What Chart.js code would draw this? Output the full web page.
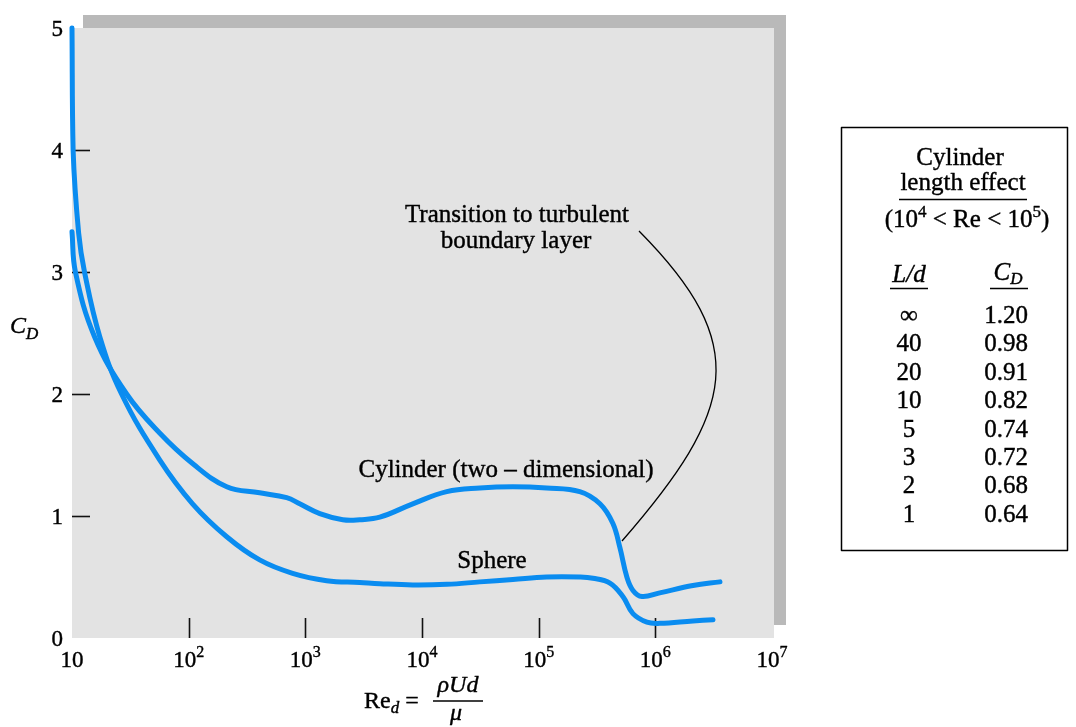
<!DOCTYPE html>
<html>
<head>
<meta charset="utf-8">
<script src="https://cdn.jsdelivr.net/npm/chart.js@4.4.1/dist/chart.umd.min.js"></script>
<style>
  html, body { margin: 0; padding: 0; background: #fff; }
  #wrap { position: relative; width: 1076px; height: 727px; }
</style>
</head>
<body>
<div id="wrap"><canvas id="c" width="1076" height="727"></canvas></div>
<script>
// values (Re on a log axis, C_D linear)
const cylinderRe = [10, 10.7, 15.6, 29.4, 56.4, 108, 212, 406, 692, 895, 1330, 2094, 2931, 4345, 8337, 16300, 31300,
  60100, 117000, 225000, 335000, 432000, 497000, 570000, 643000, 768000, 1090000, 2100000, 3580000];
const cylinderCd = [3.33, 3.0, 2.47, 2.0, 1.68, 1.43, 1.24, 1.19, 1.15, 1.10, 1.02, 0.97, 0.97, 0.99, 1.10, 1.20, 1.23,
  1.24, 1.23, 1.20, 1.10, 0.94, 0.74, 0.50, 0.39, 0.34, 0.37, 0.43, 0.46];

const sphereRe = [10, 10.22, 11.4, 12.8, 17.3, 26.6, 56.4, 108, 212, 406, 778, 1524, 2931, 4345, 8337, 16300, 31300,
  60100, 117000, 225000, 292000, 408000, 527000, 643000, 847000, 1090000, 2100000, 3120000];
const sphereCd = [5.0, 4.0, 3.32, 3.0, 2.47, 2.0, 1.46, 1.10, 0.83, 0.64, 0.53, 0.47, 0.455, 0.445, 0.435, 0.44, 0.46,
  0.48, 0.50, 0.50, 0.49, 0.45, 0.34, 0.20, 0.13, 0.12, 0.14, 0.15];

const xTickExp = [1, 2, 3, 4, 5, 6, 7];
const yTickVals = [0, 1, 2, 3, 4, 5];

const tableLd = ['∞', '40', '20', '10', '5', '3', '2', '1'];
const tableCd = ['1.20', '0.98', '0.91', '0.82', '0.74', '0.72', '0.68', '0.64'];

const SERIF = '"Liberation Serif", "Times New Roman", serif';
const BLUE = '#0a8cf0';
const INK = '#000';

const toPts = (xs, ys) => xs.map((x, i) => ({ x: x, y: ys[i] }));

// text pieces with their own size / italic / baseline shift, laid out left to right
function richWidth(ctx, parts) {
  let w = 0;
  parts.forEach(p => {
    ctx.font = (p.italic ? 'italic ' : '') + p.size + 'px ' + SERIF;
    w += ctx.measureText(p.t).width;
  });
  return w;
}
function drawRich(ctx, parts, x, base, align) {
  const w = richWidth(ctx, parts);
  let cx = align === 'center' ? x - w / 2 : (align === 'right' ? x - w : x);
  ctx.textAlign = 'left';
  ctx.textBaseline = 'alphabetic';
  ctx.lineWidth = 0.4;
  ctx.lineJoin = 'round';
  parts.forEach(p => {
    ctx.font = (p.italic ? 'italic ' : '') + p.size + 'px ' + SERIF;
    ctx.fillText(p.t, cx, base + (p.dy || 0));
    ctx.strokeText(p.t, cx, base + (p.dy || 0)); // the print is a little heavier than plain Times
    cx += ctx.measureText(p.t).width;
  });
}
function hline(ctx, x1, x2, y, lw) {
  ctx.beginPath();
  ctx.lineWidth = lw || 1.5;
  ctx.moveTo(x1, y);
  ctx.lineTo(x2, y);
  ctx.stroke();
}

const decor = {
  id: 'decor',
  beforeDraw(chart) {
    const { ctx, chartArea: a } = chart;
    ctx.save();
    ctx.fillStyle = '#ffffff';
    ctx.fillRect(0, 0, chart.width, chart.height);
    // offset shadow panel, then the plot panel
    ctx.fillStyle = '#b9b9b9';
    ctx.fillRect(a.left + 11, a.top - 13, a.right + 3 - a.left, a.bottom - a.top);
    ctx.fillStyle = '#e3e3e3';
    ctx.fillRect(a.left, a.top, a.right + 2 - a.left, a.bottom - a.top);
    ctx.restore();
  },
  beforeDatasetsDraw(chart) {
    const { ctx, chartArea: a, scales } = chart;
    ctx.save();
    ctx.strokeStyle = '#111';
    yTickVals.forEach(v => {
      if (v === 0 || v === 5) return;
      const y = Math.round(scales.y.getPixelForValue(v)) + 0.5;
      hline(ctx, a.left, a.left + 18, y, 1.6);
    });
    ctx.lineWidth = 1.6;
    xTickExp.forEach(e => {
      if (e === 1 || e === 7) return;
      const x = Math.round(scales.x.getPixelForValue(Math.pow(10, e))) + 0.5;
      ctx.beginPath();
      ctx.moveTo(x, a.bottom);
      ctx.lineTo(x, a.bottom - 20);
      ctx.stroke();
    });
    ctx.restore();
  },
  afterDraw(chart) {
    const { ctx, chartArea: a, scales } = chart;
    ctx.save();
    ctx.fillStyle = INK;
    ctx.strokeStyle = INK;

    // y tick labels
    yTickVals.forEach(v => {
      const y = scales.y.getPixelForValue(v);
      drawRich(ctx, [{ t: String(v), size: 23 }], a.left - 9, y + 8, 'right');
    });

    // x tick labels 10, 10^2 ... 10^7
    xTickExp.forEach(e => {
      const x = scales.x.getPixelForValue(Math.pow(10, e));
      const parts = [{ t: '10', size: 23 }];
      if (e > 1) parts.push({ t: String(e), size: 16, dy: -10 });
      drawRich(ctx, parts, x, a.bottom + 29, 'center');
    });

    // axis titles
    drawRich(ctx, [{ t: 'C', size: 24, italic: true }, { t: 'D', size: 17, italic: true, dy: 6 }], 10, 333, 'left');
    drawRich(ctx, [{ t: 'Re', size: 24 }, { t: 'd', size: 17, italic: true, dy: 5 }, { t: ' =', size: 24 }], 364, 708, 'left');
    drawRich(ctx, [{ t: 'ρUd', size: 24, italic: true }], 458, 692, 'center');
    hline(ctx, 433, 483, 701, 1.5);
    drawRich(ctx, [{ t: 'μ', size: 24, italic: true }], 456, 720, 'center');

    // curve annotations
    const lab = (t, x, y) => drawRich(ctx, [{ t: t, size: 25 }], x, y, 'center');
    lab('Transition to turbulent', 517, 222);
    lab('boundary layer', 516, 248);
    lab('Cylinder (two – dimensional)', 506, 477);
    lab('Sphere', 492, 568);

    // leader to the drag crisis
    ctx.beginPath();
    ctx.lineWidth = 1.3;
    ctx.moveTo(639, 231);
    ctx.bezierCurveTo(752, 345, 736, 410, 622, 541);
    ctx.stroke();

    // length-effect table
    ctx.lineWidth = 1.5;
    ctx.strokeRect(841.5, 127.5, 226, 423);
    lab('Cylinder', 960, 165);
    lab('length effect', 963, 190);
    hline(ctx, 899, 1027, 199.5, 1.6);
    drawRich(ctx, [{ t: '(10', size: 25 }, { t: '4', size: 17, dy: -10 }, { t: ' < Re < 10', size: 25 },
      { t: '5', size: 17, dy: -10 }, { t: ')', size: 25 }], 967, 227, 'center');
    drawRich(ctx, [{ t: 'L/d', size: 25, italic: true }], 909, 282, 'center');
    hline(ctx, 890, 928, 288.5, 1.6);
    drawRich(ctx, [{ t: 'C', size: 25, italic: true }, { t: 'D', size: 17, italic: true, dy: 4 }], 1008, 280, 'center');
    hline(ctx, 990, 1028, 288.5, 1.6);
    tableLd.forEach((t, i) => {
      const base = 323 + i * 28.4;
      lab(t, 909, base);
      lab(tableCd[i], 1006, base);
    });
    ctx.restore();
  }
};

new Chart(document.getElementById('c'), {
  type: 'scatter',
  data: {
    datasets: [
      { label: 'Cylinder (two – dimensional)', data: toPts(cylinderRe, cylinderCd) },
      { label: 'Sphere', data: toPts(sphereRe, sphereCd) }
    ].map(d => Object.assign(d, {
      showLine: true,
      borderColor: BLUE,
      backgroundColor: BLUE,
      borderWidth: 5,
      pointRadius: 0,
      tension: 0.4,
      borderCapStyle: 'round',
      borderJoinStyle: 'round',
      clip: false
    }))
  },
  options: {
    responsive: false,
    animation: false,
    events: [],
    layout: { padding: { left: 0, top: 28, right: 304, bottom: 89 } },
    plugins: { legend: { display: false }, tooltip: { enabled: false } },
    scales: {
      x: {
        type: 'logarithmic',
        min: 10,
        max: 1e7,
        ticks: { display: false },
        grid: { display: false },
        border: { display: false },
        afterFit: s => { s.height = 0; }
      },
      y: {
        min: 0,
        max: 5,
        ticks: { display: false, stepSize: 1 },
        grid: { display: false },
        border: { display: false },
        afterFit: s => { s.width = 72; }
      }
    }
  },
  plugins: [decor]
});
</script>
</body>
</html>
